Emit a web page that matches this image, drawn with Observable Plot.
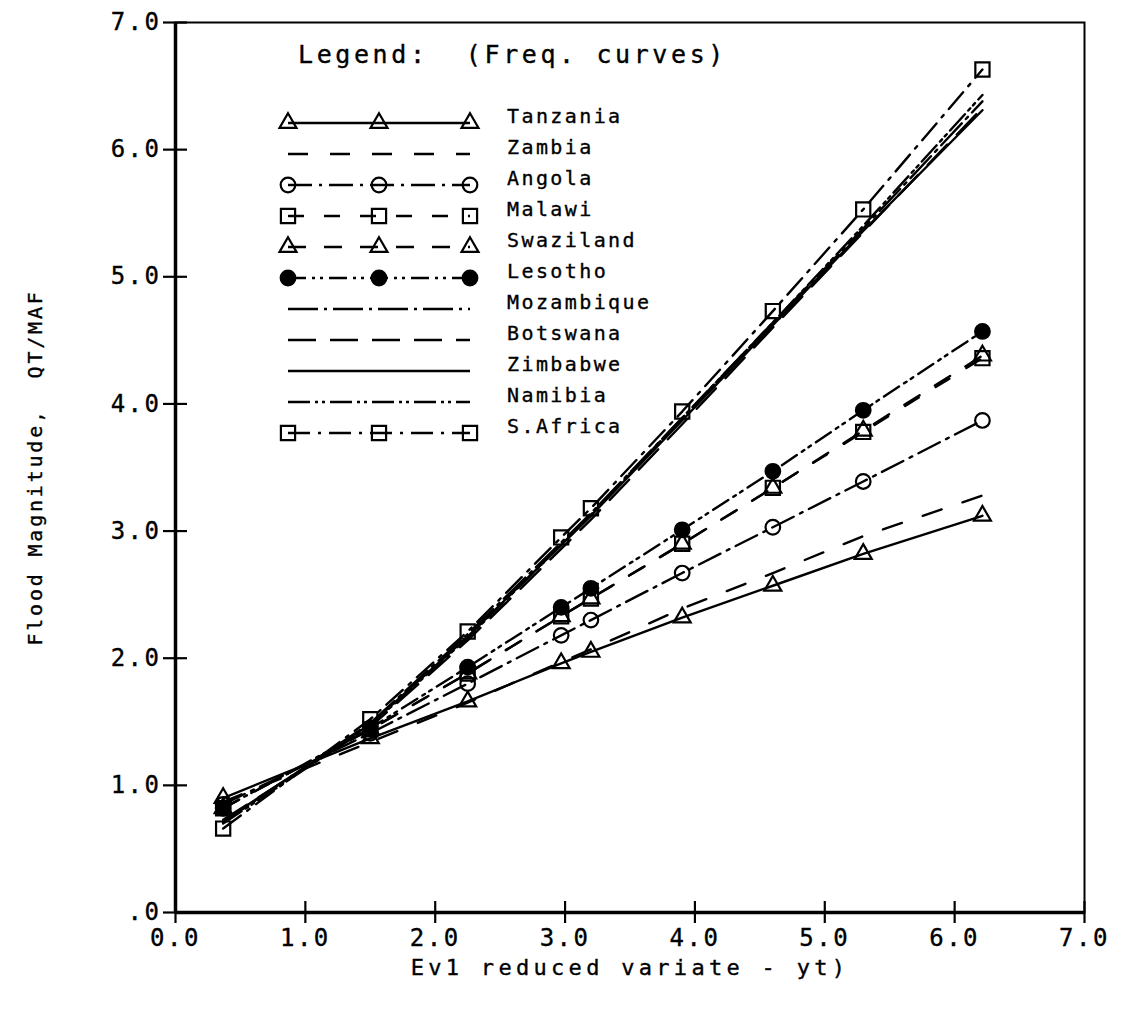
<!DOCTYPE html>
<html>
<head>
<meta charset="utf-8">
<script src="https://cdn.jsdelivr.net/npm/d3@7"></script>
<script src="https://cdn.jsdelivr.net/npm/@observablehq/plot@0.6"></script>
<style>
  body { margin: 0; background: #fff; }
  #wrap { position: relative; width: 1121px; height: 1020px; background: #fff; }
  #wrap svg { position: absolute; left: 0; top: 0; }
  #wrap text { font-family: "DejaVu Sans Mono", monospace; white-space: pre; stroke: black; stroke-width: 0.35px; }
  g[aria-label="y-axis tick label"] text { letter-spacing: 2.5px; }
  g[aria-label="x-axis tick label"] text { letter-spacing: 2.5px; }
  g[aria-label="x-axis label"] text { letter-spacing: 4.3px; }
  g[aria-label="y-axis label"] text { letter-spacing: 2.8px; }
</style>
</head>
<body>
<div id="wrap"></div>
<script>
// ---- data ----
const yt = [0.367, 1.500, 2.250, 2.970, 3.199, 3.902, 4.600, 5.296, 6.214];
const countries = ["Tanzania", "Zambia", "Angola", "Malawi", "Swaziland", "Lesotho",
                   "Mozambique", "Botswana", "Zimbabwe", "Namibia", "S.Africa"];
const tanzania   = [0.90, 1.37, 1.66, 1.96, 2.05, 2.32, 2.57, 2.82, 3.12];
const zambia     = [0.87, 1.34, 1.65, 1.97, 2.07, 2.39, 2.67, 2.96, 3.28];
const angola     = [0.85, 1.41, 1.80, 2.18, 2.30, 2.67, 3.03, 3.39, 3.87];
const malawi     = [0.82, 1.44, 1.88, 2.33, 2.47, 2.90, 3.34, 3.78, 4.36];
const swaziland  = [0.82, 1.44, 1.88, 2.33, 2.47, 2.90, 3.34, 3.79, 4.38];
const lesotho    = [0.82, 1.45, 1.93, 2.40, 2.55, 3.01, 3.47, 3.95, 4.57];
const mozambique = [0.71, 1.49, 2.19, 2.91, 3.14, 3.89, 4.64, 5.38, 6.38];
const botswana   = [0.73, 1.46, 2.14, 2.86, 3.09, 3.84, 4.60, 5.35, 6.33];
const zimbabwe   = [0.72, 1.48, 2.17, 2.89, 3.12, 3.87, 4.62, 5.36, 6.31];
const namibia    = [0.70, 1.47, 2.16, 2.89, 3.13, 3.89, 4.64, 5.40, 6.43];
const safrica    = [0.66, 1.52, 2.21, 2.95, 3.18, 3.94, 4.73, 5.53, 6.63];
const xTicks = [0, 1, 2, 3, 4, 5, 6, 7];
const yTicks = [0, 1, 2, 3, 4, 5, 6, 7];
const legendTitle = "Legend:  (Freq. curves)";
const xTitle = "Ev1 reduced variate - yt)";
const yTitle = "Flood Magnitude,  QT/MAF";

const seriesValues = [tanzania, zambia, angola, malawi, swaziland, lesotho,
                      mozambique, botswana, zimbabwe, namibia, safrica];

// ---- styles per series ----
const markerOf = ["triangle", null, "circle", "square", "triangle", "circle",
                  null, null, null, null, "square"];
const fillOf = ["none", "none", "none", "none", "none", "black",
                "none", "none", "none", "none", "none"];
const dashOf = [null, "20,22", "24,7,3,7", "16,20", "18,18", "18,6,3,5,3,6",
                "30,6,3,6", "28,14", null, "22,5,3,4,3,5", "22,8,3,8"];
const rOf = {triangle: 6.3, circle: 7.3, square: 8};

const rows = countries.flatMap((c, i) => yt.map((x, j) => ({country: c, yt: x, q: seriesValues[i][j]})));

const W = 1121, H = 1020;
const mL = 175, mR = 37, mT = 22, mB = 108;

const lineMarks = countries.map((c, i) =>
  Plot.line(rows.filter(d => d.country === c), {
    x: "yt", y: "q", stroke: "black", strokeWidth: 2.4,
    strokeDasharray: dashOf[i] || undefined
  }));
const dotMarks = countries.map((c, i) => markerOf[i] ?
  Plot.dot(rows.filter(d => d.country === c), {
    x: "yt", y: "q", symbol: markerOf[i], r: rOf[markerOf[i]],
    stroke: "black", strokeWidth: 2.2, fill: fillOf[i]
  }) : null).filter(Boolean);

const chart = Plot.plot({
  width: W, height: H,
  marginLeft: mL, marginRight: mR, marginTop: mT, marginBottom: mB,
  style: {fontFamily: "DejaVu Sans Mono, monospace", fontSize: "24px", color: "black", background: "white"},
  x: {domain: [0, 7]},
  y: {domain: [0, 7]},
  marks: [
    Plot.frame({stroke: "black", strokeWidth: 2}),
    Plot.ruleX([0], {stroke: "black", strokeWidth: 3.5}),
    Plot.ruleY([0], {stroke: "black", strokeWidth: 3.5}),
    // crossing ticks
    Plot.axisX(xTicks, {tickSize: 22, dy: -11, strokeWidth: 2.2, tickFormat: () => "", label: null}),
    Plot.axisY(yTicks, {tickSize: 24, dx: 12, strokeWidth: 2.2, tickFormat: () => "", label: null}),
    // tick labels + titles
    Plot.axisX(xTicks, {tickSize: 0, tickPadding: 16, fontSize: 24,
      tickFormat: d => d.toFixed(1),
      label: xTitle, labelAnchor: "center", labelArrow: "none", labelOffset: 62}),
    Plot.axisY(yTicks, {tickSize: 0, tickPadding: 14, fontSize: 24,
      tickFormat: d => d === 0 ? ".0" : d.toFixed(1),
      label: yTitle, labelAnchor: "center", labelArrow: "none", labelOffset: 148}),
    ...lineMarks,
    ...dotMarks
  ]
});
document.getElementById("wrap").appendChild(chart);

// axis title font sizes
chart.querySelectorAll('g[aria-label="x-axis label"] text').forEach(t => t.setAttribute("font-size", "22"));
chart.querySelectorAll('g[aria-label="y-axis label"] text').forEach(t => t.setAttribute("font-size", "20"));

// ---- legend overlay (inside the plot frame, top-left) ----
const ov = d3.select("#wrap").append("svg")
  .attr("width", W).attr("height", H)
  .style("pointer-events", "none");
ov.append("text")
  .attr("x", 298).attr("y", 56)
  .attr("dominant-baseline", "middle")
  .attr("font-size", 25)
  .style("letter-spacing", "3.6px")
  .text(legendTitle);

const lx0 = 288, lx1 = 470, rowY0 = 123, rowStep = 31;
countries.forEach((c, i) => {
  const y = rowY0 + i * rowStep;
  const g = ov.append("g");
  g.append("line")
    .attr("x1", lx0).attr("x2", lx1).attr("y1", y).attr("y2", y)
    .attr("stroke", "black").attr("stroke-width", 2.4)
    .attr("stroke-dasharray", dashOf[i]);
  if (markerOf[i]) {
    const sym = {triangle: d3.symbolTriangle, circle: d3.symbolCircle, square: d3.symbolSquare}[markerOf[i]];
    const r = rOf[markerOf[i]];
    const path = d3.symbol(sym, Math.PI * r * r)();
    [lx0, (lx0 + lx1) / 2, lx1].forEach(x => {
      g.append("path").attr("d", path)
        .attr("transform", `translate(${x},${y})`)
        .attr("stroke", "black").attr("stroke-width", 2.2)
        .attr("fill", fillOf[i]);
    });
  }
  g.append("text")
    .attr("x", 507).attr("y", y - 6)
    .attr("dominant-baseline", "middle")
    .attr("font-size", 20)
    .style("letter-spacing", "2.4px")
    .text(c);
});
</script>
</body>
</html>
